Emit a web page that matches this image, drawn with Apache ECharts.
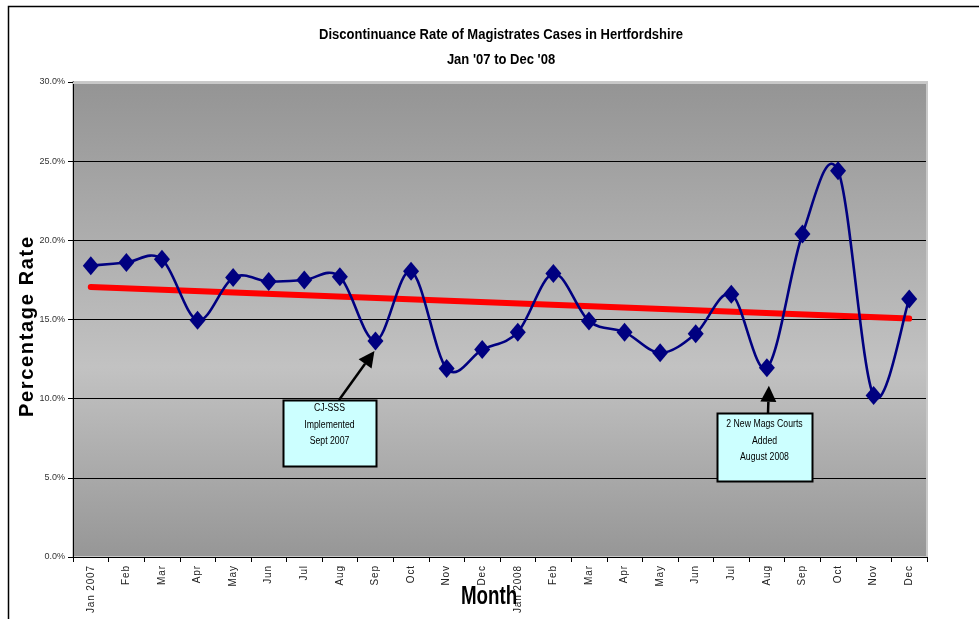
<!DOCTYPE html>
<html>
<head>
<meta charset="utf-8">
<script src="https://cdn.jsdelivr.net/npm/echarts@6/dist/echarts.min.js"></script>
<style>
  html, body { margin: 0; padding: 0; background: #fff; }
  #chart { width: 979px; height: 619px; }
</style>
</head>
<body>
<div id="chart"></div>
<script>
// ---- data ----
const months = ['Jan 2007','Feb','Mar','Apr','May','Jun','Jul','Aug','Sep','Oct','Nov','Dec',
                'Jan 2008','Feb','Mar','Apr','May','Jun','Jul','Aug','Sep','Oct','Nov','Dec'];
const rates = [18.4, 18.6, 18.8, 14.95, 17.65, 17.4, 17.5, 17.7, 13.65, 18.05, 11.9, 13.1,
               14.2, 17.9, 14.9, 14.2, 12.9, 14.1, 16.6, 11.95, 20.4, 24.4, 10.2, 16.3];
const trendStart = 17.05;
const trendEnd = 15.06;
const yTicks = [0, 5, 10, 15, 20, 25, 30];
const titleLines = ['Discontinuance Rate of Magistrates Cases in Hertfordshire', "Jan '07 to Dec '08"];
const notes = [
  { idx: 8,  lines: ['CJ-SSS', 'Implemented', 'Sept 2007'] },
  { idx: 19, lines: ['2 New Mags Courts', 'Added', 'August 2008'] }
];

const SANS = "'Liberation Sans', Arial, sans-serif";
const HAIR = '\u200A';
const spaced = s => s.split('').join(HAIR);

const chart = echarts.init(document.getElementById('chart'), null, { renderer: 'canvas' });

// smooth curve through the data points (Catmull-Rom style, like a spreadsheet "smoothed line")
function renderSmooth(params, api) {
  if (params.dataIndexInside !== 0) return null;
  const pts = rates.map((v, i) => api.coord([i, v]));
  const n = pts.length;
  let d = 'M' + pts[0][0] + ' ' + pts[0][1];
  for (let i = 0; i < n - 1; i++) {
    const p0 = pts[Math.max(i - 1, 0)];
    const p1 = pts[i];
    const p2 = pts[i + 1];
    const p3 = pts[Math.min(i + 2, n - 1)];
    const c1x = p1[0] + (p2[0] - p0[0]) / 6;
    const c1y = p1[1] + (p2[1] - p0[1]) / 6;
    const c2x = p2[0] - (p3[0] - p1[0]) / 6;
    const c2y = p2[1] - (p3[1] - p1[1]) / 6;
    d += ' C' + c1x + ' ' + c1y + ' ' + c2x + ' ' + c2y + ' ' + p2[0] + ' ' + p2[1];
  }
  return {
    type: 'path',
    shape: { pathData: d },
    style: { fill: 'none', stroke: '#000080', lineWidth: 2.6 }
  };
}

const option = {
  animation: false,
  backgroundColor: '#ffffff',
  grid: {
    left: 73, top: 82, right: 52, bottom: 62,
    show: true,
    borderColor: '#cacaca',
    borderWidth: 2,
    backgroundColor: {
      type: 'linear', x: 0, y: 0, x2: 0, y2: 1,
      colorStops: [
        { offset: 0, color: '#949494' },
        { offset: 0.6, color: '#c2c2c2' },
        { offset: 1, color: '#969696' }
      ]
    }
  },
  xAxis: {
    type: 'category',
    data: months,
    boundaryGap: true,
    axisLine: { lineStyle: { color: '#000', width: 1 } },
    axisTick: { show: true, length: 5, alignWithLabel: false, lineStyle: { color: '#000' } },
    axisLabel: {
      interval: 0,
      rotate: 90,
      margin: 9,
      fontFamily: SANS,
      fontSize: 10,
      color: '#222',
      formatter: v => spaced(v)
    },
    splitLine: { show: false }
  },
  yAxis: {
    type: 'value',
    min: yTicks[0],
    max: yTicks[yTicks.length - 1],
    interval: yTicks[1] - yTicks[0],
    axisLine: { show: true, lineStyle: { color: '#000', width: 1 } },
    axisTick: { show: true, length: 5, lineStyle: { color: '#000' } },
    axisLabel: {
      margin: 8,
      fontFamily: SANS,
      fontSize: 9,
      color: '#333',
      formatter: v => v.toFixed(1) + '%'
    },
    splitLine: { show: true, lineStyle: { color: '#000', width: 1 } }
  },
  series: [
    {
      name: 'Trend',
      type: 'line',
      data: [[0, trendStart], [months.length - 1, trendEnd]],
      symbol: 'none',
      lineStyle: { color: '#ff0000', width: 6, cap: 'round' },
      z: 2
    },
    {
      name: 'RateCurve',
      type: 'custom',
      data: rates,
      renderItem: renderSmooth,
      z: 3
    },
    {
      name: 'Rate',
      type: 'scatter',
      data: rates.map((v, i) => [i, v]),
      symbol: 'diamond',
      symbolSize: [16, 19],
      itemStyle: { color: '#000080', opacity: 1 },
      z: 4
    }
  ]
};

chart.setOption(option);

// ---- annotations (boxes + arrows pointing at data points) ----
const boxLayout = [
  { x: 283, y: 400, w: 93, h: 66, startX: 339, tipDx: -1, tipDy: 10, textDy: 25 },
  { x: 717, y: 413, w: 95, h: 68, startX: 768, tipDx: 2, tipDy: 18, textDy: 28 }
];

const graphics = [];
notes.forEach((n, i) => {
  const b = boxLayout[i];
  const p = chart.convertToPixel({ seriesIndex: 2 }, [n.idx, rates[n.idx]]);
  const tip = [p[0] + b.tipDx, p[1] + b.tipDy];
  const start = [b.startX, b.y];
  const dx = tip[0] - start[0], dy = tip[1] - start[1];
  const len = Math.sqrt(dx * dx + dy * dy);
  const ux = dx / len, uy = dy / len;
  const headL = 16, headW = 8;
  const base = [tip[0] - ux * headL, tip[1] - uy * headL];
  const left = [base[0] - uy * headW, base[1] + ux * headW];
  const right = [base[0] + uy * headW, base[1] - ux * headW];
  graphics.push({
    type: 'line', z: 10,
    shape: { x1: start[0], y1: start[1], x2: base[0], y2: base[1] },
    style: { stroke: '#000', lineWidth: 2.5 }
  });
  graphics.push({
    type: 'polygon', z: 10,
    shape: { points: [tip, left, right] },
    style: { fill: '#000' }
  });
  graphics.push({
    type: 'rect', z: 11,
    shape: { x: b.x + 0.5, y: b.y + 0.5, width: b.w, height: b.h },
    style: { fill: '#ccffff', stroke: '#000', lineWidth: 2 }
  });
  graphics.push({
    type: 'text', z: 12,
    x: b.x + b.w / 2, y: b.y + b.textDy,
    scaleX: 0.87,
    style: {
      text: n.lines.join('\n'),
      fill: '#000',
      font: '10px ' + SANS,
      lineHeight: 16.5,
      align: 'center',
      verticalAlign: 'middle'
    }
  });
});

// plot area top/right light border over the top gridline
graphics.push({
  type: 'polyline', z: 5,
  shape: { points: [[73, 83], [927, 83], [927, 557]] },
  style: { stroke: '#c8c8c8', lineWidth: 2, fill: 'none' }
});
// outer chart border
graphics.push({
  type: 'rect', z: 0,
  shape: { x: 8.5, y: 6.5, width: 1200, height: 1000 },
  style: { fill: 'none', stroke: '#000', lineWidth: 1.5 }
});
// title
graphics.push({
  type: 'text', z: 12,
  x: 501, y: 35,
  scaleX: 0.93,
  style: {
    text: titleLines[0], fill: '#000', font: 'bold 14px ' + SANS,
    align: 'center', verticalAlign: 'middle'
  }
});
graphics.push({
  type: 'text', z: 12,
  x: 501, y: 60,
  scaleX: 0.93,
  style: {
    text: titleLines[1], fill: '#000', font: 'bold 14px ' + SANS,
    align: 'center', verticalAlign: 'middle'
  }
});
// axis titles
graphics.push({
  type: 'text', z: 12,
  x: 27, y: 327, rotation: Math.PI / 2,
  style: {
    text: spaced('Percentage Rate'),
    fill: '#000',
    font: 'bold 20px ' + SANS,
    align: 'center',
    verticalAlign: 'middle'
  }
});
graphics.push({
  type: 'text', z: 12,
  x: 489, y: 597,
  scaleX: 0.75,
  style: {
    text: 'Month',
    fill: '#000',
    font: 'bold 25px ' + SANS,
    align: 'center',
    verticalAlign: 'middle'
  }
});

chart.setOption({ graphic: graphics });
</script>
</body>
</html>
